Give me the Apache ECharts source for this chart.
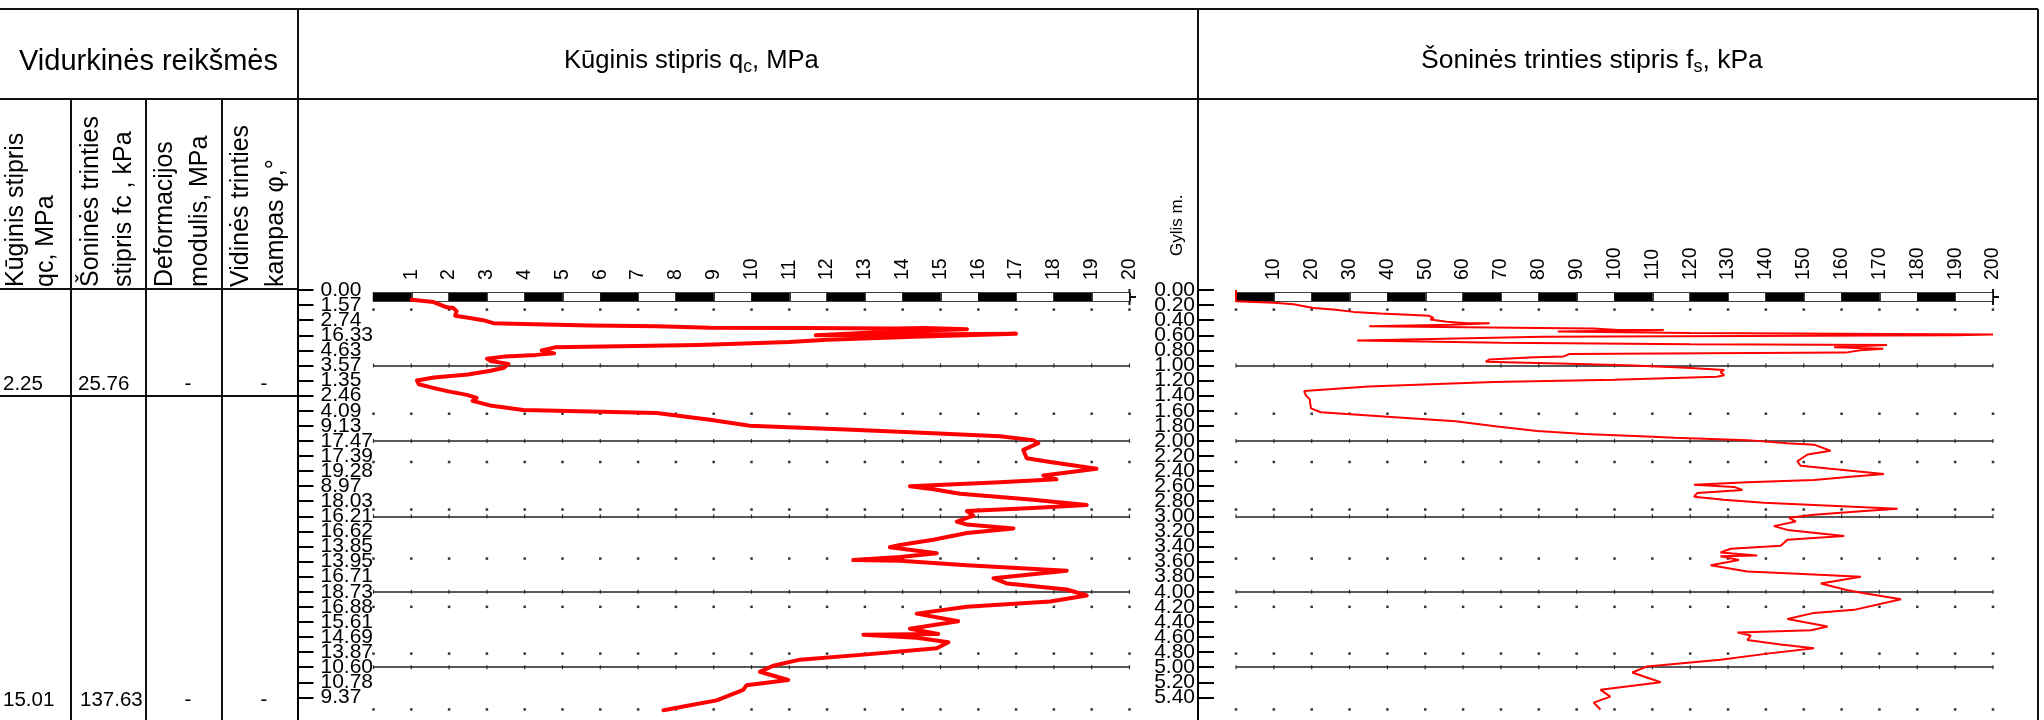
<!DOCTYPE html>
<html><head><meta charset="utf-8">
<script src="https://cdn.jsdelivr.net/npm/echarts@6/dist/echarts.min.js"></script>
<style>html,body{margin:0;padding:0;background:#fff}#c{width:2044px;height:720px}</style>
</head><body><div id="c"></div>
<script>
// ---------- DATA ----------
const qcDepth = [0.13,0.16,0.23,0.24,0.28,0.34,0.37,0.40,0.44,0.45,0.47,0.48,0.50,0.505,0.51,0.505,0.52,0.54,0.60,0.59,0.58,0.62,0.66,0.69,0.73,0.76,0.80,0.84,0.86,0.88,0.91,0.94,0.98,1.03,1.07,1.12,1.16,1.20,1.25,1.30,1.34,1.39,1.43,1.47,1.53,1.59,1.61,1.63,1.72,1.80,1.85,1.90,1.94,1.99,2.03,2.12,2.23,2.28,2.37,2.46,2.51,2.55,2.60,2.64,2.70,2.78,2.85,2.89,2.93,2.99,3.07,3.11,3.16,3.22,3.31,3.38,3.41,3.49,3.54,3.58,3.59,3.65,3.72,3.82,3.89,3.97,4.05,4.13,4.20,4.29,4.39,4.49,4.56,4.57,4.61,4.67,4.75,4.83,4.90,4.98,5.06,5.17,5.24,5.30,5.44,5.52,5.57];
const qcValue = [1.01,1.59,1.94,2.11,2.20,2.16,2.55,2.90,3.17,3.96,5.73,7.49,8.90,11.3,13.8,14.6,15.7,14.2,11.7,14.0,17.0,14.3,12.0,11.0,8.6,4.8,4.45,4.78,4.3,3.5,3.0,3.1,3.57,3.45,3.1,2.5,1.6,1.15,1.2,1.6,1.95,2.47,2.73,2.62,3.08,3.96,5.73,7.49,8.9,9.96,12.5,14.81,16.57,17.45,17.59,17.19,17.28,17.9,19.13,17.72,18.07,16.57,14.19,14.81,15.52,17.45,18.87,17.45,15.7,15.87,15.43,15.7,16.93,15.7,14.81,13.93,13.66,14.9,13.93,12.69,13.93,15.7,18.34,16.4,16.75,18.34,18.87,17.9,15.7,14.37,15.47,14.19,14.94,12.96,14.37,15.21,14.9,13.05,11.28,10.58,10.22,10.97,9.87,9.78,9.08,8.2,7.67];

const fsDepth = [0.00,0.15,0.17,0.19,0.24,0.26,0.29,0.31,0.33,0.34,0.37,0.39,0.42,0.44,0.44,0.46,0.48,0.50,0.51,0.53,0.53,0.55,0.57,0.59,0.60,0.62,0.67,0.70,0.72,0.73,0.76,0.78,0.80,0.83,0.85,0.88,0.89,0.92,0.95,0.98,1.00,1.03,1.06,1.09,1.13,1.15,1.19,1.22,1.28,1.34,1.40,1.45,1.50,1.57,1.62,1.68,1.74,1.81,1.87,1.91,1.94,1.96,1.99,2.03,2.05,2.13,2.18,2.27,2.33,2.37,2.44,2.48,2.52,2.55,2.58,2.61,2.65,2.69,2.74,2.78,2.82,2.86,2.90,2.93,2.98,3.02,3.07,3.13,3.18,3.26,3.31,3.39,3.43,3.48,3.52,3.53,3.58,3.65,3.73,3.77,3.80,3.89,3.98,4.02,4.10,4.24,4.28,4.36,4.46,4.51,4.54,4.58,4.64,4.70,4.75,4.82,4.90,4.99,5.07,5.20,5.30,5.39,5.47,5.56];
const fsValue = [0,0,9.9,15.2,20.4,25.7,31.0,38.1,46.9,50.9,52.2,51.3,55.7,61.0,67.0,57.0,35.2,73.4,94.4,101,113,85,120,200,190,81,32,70,120,172,158,171,165,161,88,86.6,78.8,67,66,90.5,105,119,129,128,129,127,100,68,35,18,18.5,19.5,19.6,19.8,22.4,40,58,69,79.6,92,107,116,135,145.7,152.7,157.1,151,148.3,149.2,157.1,171.2,161.6,152.7,135.1,121,131.6,133.8,121.9,121,128.9,139.5,157.1,174.8,166,152.7,146.1,147.9,142.1,145.7,160.7,145.7,143.9,130.7,128,137.7,128,132.9,125.4,135.1,152.7,165.1,154.5,161.6,166,175.7,163.3,152.7,145.7,156.3,151.9,132.5,136,135.1,143.9,152.7,140.4,128,108.6,104.7,112.2,96.3,98.9,94.5,96.3];

const depthTicks = [0,0.2,0.4,0.6,0.8,1.0,1.2,1.4,1.6,1.8,2.0,2.2,2.4,2.6,2.8,3.0,3.2,3.4,3.6,3.8,4.0,4.2,4.4,4.6,4.8,5.0,5.2,5.4];
const qcDepthLabels = ['0.00','1.57','2.74','16.33','4.63','3.57','1.35','2.46','4.09','9.13','17.47','17.39','19.28','8.97','18.03','16.21','16.62','13.85','13.95','16.71','18.73','16.88','15.61','14.69','13.87','10.60','10.78','9.37'];
const fsDepthLabels = ['0.00','0.20','0.40','0.60','0.80','1.00','1.20','1.40','1.60','1.80','2.00','2.20','2.40','2.60','2.80','3.00','3.20','3.40','3.60','3.80','4.00','4.20','4.40','4.60','4.80','5.00','5.20','5.40'];
const qcTicks = [1,2,3,4,5,6,7,8,9,10,11,12,13,14,15,16,17,18,19,20];
const fsTicks = [10,20,30,40,50,60,70,80,90,100,110,120,130,140,150,160,170,180,190,200];
const qcGridX = [0,1,2,3,4,5,6,7,8,9,10,11,12,13,14,15,16,17,18,19,20];
const fsGridX = [0,10,20,30,40,50,60,70,80,90,100,110,120,130,140,150,160,170,180,190,200];
const dotRowDepths = [0.26,1.64,2.28,2.91,3.56,4.20,4.82,5.56];
const layerDepths = [1,2,3,4,5];

const tableTitle = 'Vidurkinės reikšmės';
const tableHeaders = [['Kūginis stipris','qc, MPa'],['Šoninės trinties','stipris fc , kPa'],['Deformacijos','modulis, MPa'],['Vidinės trinties','kampas φ,°']];
const avgRow1 = ['2.25','25.76','-','-'];
const avgRow2 = ['15.01','137.63','-','-'];

// ---------- LAYOUT ----------
const FONT = '"Liberation Sans", Arial, Helvetica, sans-serif';
const Y0 = 290, PXM = 75.44, YMAX = (720 - Y0) / PXM;
const QC_L = 373.5, QC_W = 756, FS_L = 1236, FS_W = 757;
const evenTicks = depthTicks.filter((_, i) => i % 2 === 0);
const oddTicks = depthTicks.filter((_, i) => i % 2 === 1);

const chart = echarts.init(document.getElementById('c'), null, {renderer: 'canvas', width: 2044, height: 720});

function pairs(ys, xs) { return xs.map((x, i) => [x, ys[i]]); }
function dotData(rows, cols) { const out = []; rows.forEach(d => cols.forEach(x => out.push([x, d]))); return out; }

function mainX(grid, max, interval, ticks) {
  return {gridIndex: grid, type: 'value', position: 'top', min: 0, max: max, interval: interval,
    axisLine: {show: false}, axisTick: {show: false}, splitLine: {show: false},
    axisLabel: {customValues: ticks, rotate: 90, margin: 10, fontSize: 19.5, color: '#000', fontFamily: FONT, showMinLabel: true, showMaxLabel: true}};
}
function barX(grid, max, interval) {
  return {gridIndex: grid, type: 'value', min: 0, max: max, interval: interval,
    axisLine: {show: false}, axisTick: {show: false}, axisLabel: {show: false},
    splitLine: {show: true, lineStyle: {color: '#000', width: 1.5}},
    splitArea: {show: true, areaStyle: {color: ['#000', '#fff']}}};
}
const hiddenY = g => ({gridIndex: g, type: 'value', min: 0, max: 1, show: false});

const T = (text, x, y, size, extra) => Object.assign({type: 'text', x: x, y: y, silent: true,
  style: Object.assign({text: text, fill: '#000', fontSize: size, fontFamily: FONT, align: 'left', verticalAlign: 'middle'}, extra || {})});
const L = (x1, y1, x2, y2, w) => ({type: 'line', silent: true, shape: {x1: x1, y1: y1, x2: x2, y2: y2}, style: {stroke: '#111', lineWidth: w || 2}});

const colX = [[16, 46], [91, 124], [165, 200], [241, 276]];
const graphics = [
  L(0, 9, 2038, 9), L(0, 99, 2038, 99), L(0, 289, 298, 289), L(0, 396, 298, 396),
  L(71, 99, 71, 720), L(146, 99, 146, 720), L(222, 99, 222, 720),
  L(298, 9, 298, 720), L(1198, 9, 1198, 720), L(2038, 9, 2038, 720),
  L(1129.5, 289, 1129.5, 305, 2), L(1129.5, 297, 1136, 297, 2),
  L(1993, 289, 1993, 305, 2), L(1993, 297, 1999, 297, 2),
  T(tableTitle, 19, 62, 29, {align: 'left'}),
  {type: 'text', x: 564, y: 46, silent: true, style: {text: '{a|Kūginis stipris q}{b|c}{a|, MPa}', align: 'left', verticalAlign: 'top',
    rich: {a: {fontSize: 25.6, fontFamily: FONT, fill: '#000', lineHeight: 30}, b: {fontSize: 17.5, fontFamily: FONT, fill: '#000', lineHeight: 14, verticalAlign: 'bottom'}}}},
  {type: 'text', x: 1421, y: 46, silent: true, style: {text: '{a|Šoninės trinties stipris f}{b|s}{a|, kPa}', align: 'left', verticalAlign: 'top',
    rich: {a: {fontSize: 26.5, fontFamily: FONT, fill: '#000', lineHeight: 30}, b: {fontSize: 18, fontFamily: FONT, fill: '#000', lineHeight: 14, verticalAlign: 'bottom'}}}}
];
const gy = T('Gylis m.', 1177, 256, 17, {}); gy.rotation = Math.PI / 2; graphics.push(gy);
tableHeaders.forEach((lines, c) => {
  lines.forEach((t, k) => { const e = T(t, colX[c][k], 287, 25); e.rotation = Math.PI / 2; graphics.push(e); });
});
const valX = [3, 78, 188, 264];
avgRow1.forEach((v, i) => graphics.push(T(v, valX[i], 384, 20.5, {align: i >= 2 ? 'center' : 'left'})));
avgRow2.forEach((v, i) => graphics.push(T(v, i === 1 ? 80 : valX[i], 700, 20.5, {align: i >= 2 ? 'center' : 'left'})));

// depth axis: one axis carries line + ticks + even labels, a twin axis carries odd labels
const depthY = (grid, offset, labels, inside, margin, labelTicks, withLine) => ({
  gridIndex: grid, type: 'value', inverse: true, min: 0, max: YMAX, position: 'left', offset: offset,
  axisLine: {show: withLine, onZero: false, lineStyle: {color: '#000', width: 2}},
  axisTick: {show: withLine, inside: true, length: 16, customValues: depthTicks, lineStyle: {color: '#000', width: 2}},
  axisLabel: {inside: inside, margin: margin, customValues: labelTicks, fontSize: 21, color: '#000', fontFamily: FONT,
    showMinLabel: true, showMaxLabel: true, hideOverlap: false,
    formatter: v => labels[Math.round(v / 0.2)]},
  splitLine: {show: false}
});

const layerLine = {symbol: 'none', silent: true, label: {show: false}, lineStyle: {color: '#222', width: 1.5, type: 'solid'},
  data: layerDepths.map(d => ({yAxis: d}))};

const option = {
  animation: false,
  backgroundColor: '#fff',
  grid: [
    {left: QC_L, top: Y0, width: QC_W, height: 720 - Y0, outerBoundsMode: 'none', containLabel: false},
    {left: QC_L, top: 293, width: QC_W, height: 8, show: true, borderColor: '#000', borderWidth: 1.5, outerBoundsMode: 'none', containLabel: false},
    {left: FS_L, top: Y0, width: FS_W, height: 720 - Y0, outerBoundsMode: 'none', containLabel: false},
    {left: FS_L, top: 293, width: FS_W, height: 8, show: true, borderColor: '#000', borderWidth: 1.5, outerBoundsMode: 'none', containLabel: false}
  ],
  xAxis: [mainX(0, 20, 1, qcTicks), barX(1, 20, 1), mainX(2, 200, 10, fsTicks), barX(3, 200, 10)],
  yAxis: [
    depthY(0, QC_L - 297.5, qcDepthLabels, true, 23, evenTicks, true), hiddenY(1),
    depthY(2, FS_L - 1198, fsDepthLabels, false, 3, evenTicks, true), hiddenY(3),
    depthY(0, QC_L - 297.5, qcDepthLabels, true, 23, oddTicks, false),
    depthY(2, FS_L - 1198, fsDepthLabels, false, 3, oddTicks, false)
  ],
  series: [
    {type: 'scatter', xAxisIndex: 0, yAxisIndex: 0, symbol: 'rect', symbolSize: 2.5, itemStyle: {color: '#000'}, silent: true,
      data: dotData(dotRowDepths, qcGridX), markLine: layerLine, z: 1},
    {type: 'scatter', xAxisIndex: 0, yAxisIndex: 0, symbol: 'rect', symbolSize: [1.2, 4], itemStyle: {color: '#000'}, silent: true,
      data: dotData(layerDepths, qcGridX), z: 1},
    {type: 'scatter', xAxisIndex: 2, yAxisIndex: 2, symbol: 'rect', symbolSize: 2.5, itemStyle: {color: '#000'}, silent: true,
      data: dotData(dotRowDepths, fsGridX), markLine: layerLine, z: 1},
    {type: 'scatter', xAxisIndex: 2, yAxisIndex: 2, symbol: 'rect', symbolSize: [1.2, 4], itemStyle: {color: '#000'}, silent: true,
      data: dotData(layerDepths, fsGridX), z: 1},
    {type: 'line', name: 'qc', xAxisIndex: 0, yAxisIndex: 0, data: pairs(qcDepth, qcValue), symbol: 'none', smooth: false,
      lineStyle: {color: '#ff0000', width: 4, join: 'round', cap: 'round'}, z: 5, clip: false},
    {type: 'line', name: 'fs', xAxisIndex: 2, yAxisIndex: 2, data: pairs(fsDepth, fsValue), symbol: 'none', smooth: false,
      lineStyle: {color: '#ff0000', width: 2}, z: 5, clip: false}
  ],
  graphic: graphics
};
chart.setOption(option);
</script></body></html>
